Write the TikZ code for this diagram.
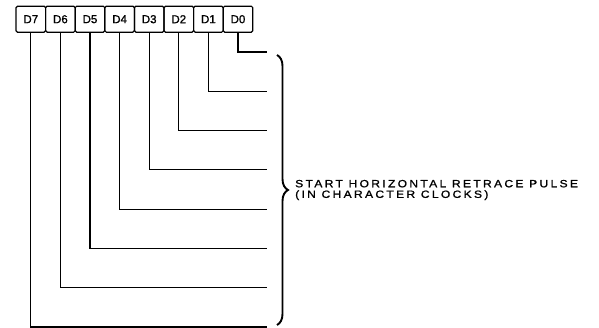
\documentclass[tikz,border=0pt]{standalone}
\usepackage{fontspec}
\usepackage{tikz}
\usetikzlibrary{positioning,decorations.pathreplacing}
\newfontfamily\bitfont{Liberation Sans}[FakeBold=1.2]
\newfontfamily\notefont{Liberation Sans}[FakeStretch=1.15,LetterSpace=22,FakeBold=1.2]
\tikzset{
  bitbox/.style={rectangle, rounded corners=1.5pt, draw=black, line width=1.2pt,
    minimum width=29.6pt, minimum height=26pt, inner sep=0pt, outer sep=0pt,
    font=\bitfont\fontsize{11.5}{12}\selectfont},
  wire/.style={line width=1.2pt},
  bigbrace/.style={decorate, decoration={brace, amplitude=11pt}, line width=1.9pt},
  note/.style={anchor=west, align=left, inner sep=0pt,
    font=\notefont\fontsize{10.5}{10.6}\selectfont},
}
\begin{document}
\begin{tikzpicture}[x=1pt, y=-1pt]
\useasboundingbox (0,0) rectangle (599,328);

\node[bitbox] (d7) at (30.8,19.2) {D7};
\node[bitbox, right=0pt of d7] (d6) {D6};
\node[bitbox, right=0pt of d6] (d5) {D5};
\node[bitbox, right=0pt of d5] (d4) {D4};
\node[bitbox, right=0pt of d4] (d3) {D3};
\node[bitbox, right=0pt of d3] (d2) {D2};
\node[bitbox, right=0pt of d2] (d1) {D1};
\node[bitbox, right=0pt of d1] (d0) {D0};

\coordinate (e0) at (267,52);
\coordinate (e1) at (267,91.3);
\coordinate (e2) at (267,130.6);
\coordinate (e3) at (267,169.9);
\coordinate (e4) at (267,209.2);
\coordinate (e5) at (267,248.5);
\coordinate (e6) at (267,287.8);
\coordinate (e7) at (267,327);

\draw[wire] (d0.south) |- (e0);
\draw[wire] (d1.south) |- (e1);
\draw[wire] (d2.south) |- (e2);
\draw[wire] (d3.south) |- (e3);
\draw[wire] (d4.south) |- (e4);
\draw[wire] (d5.south) |- (e5);
\draw[wire] (d6.south) |- (e6);
\draw[wire] (d7.south) |- (e7);

\coordinate (btop) at (277,55);
\coordinate (bbot) at (277,325);
\draw[bigbrace] (btop) -- (bbot);

\node[note] (pulse) at (295,190) {START HORIZONTAL RETRACE PULSE\\(IN CHARACTER CLOCKS)};
\end{tikzpicture}
\end{document}
